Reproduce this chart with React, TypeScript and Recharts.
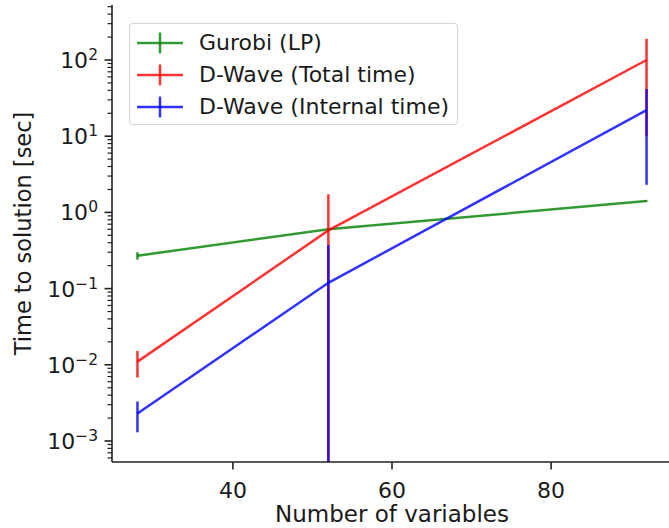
import React from 'react';
import { ComposedChart, Line, ErrorBar, XAxis, YAxis, Legend } from 'recharts';

// number of variables on x
const nVars = [28, 52, 92];

// time to solution [sec] and its error (one std)
const gurobiTime = [0.27, 0.6, 1.41];
const gurobiErr = [0.03, 0.02, 0.03];
const totalTime = [0.011, 0.58, 100];
const totalErr = [0.0042, 1.15, 90];
const internalTime = [0.0023, 0.119, 22];
const internalErr = [0.001, 0.254, 19.7];

const xTicks = [40, 60, 80];
const yMajorTicks = [1e-3, 1e-2, 1e-1, 1e0, 1e1, 1e2];

const X_DOMAIN: [number, number] = [24.8, 95.2];
const Y_MIN = 5.3e-4;
const Y_MAX = 527;

const FONT = 'DejaVu Sans';
const TEXT = '#1a1a1a';
const AXIS = '#222';

const series = [
  { key: 'gurobi', name: 'Gurobi (LP)', color: '#008000' },
  { key: 'total', name: 'D-Wave (Total time)', color: '#ff0000' },
  { key: 'internal', name: 'D-Wave (Internal time)', color: '#0000ff' },
];

// lower error clipped at the bottom of the log axis (matplotlib clips negatives)
const clampErr = (v: number, e: number) => [Math.min(e, v - Y_MIN), e];

const rows = nVars.map((n, i) => ({
  n,
  gurobi: gurobiTime[i],
  gurobiErr: clampErr(gurobiTime[i], gurobiErr[i]),
  total: totalTime[i],
  totalErr: clampErr(totalTime[i], totalErr[i]),
  internal: internalTime[i],
  internalErr: clampErr(internalTime[i], internalErr[i]),
}));

const yMinorTicks: number[] = [];
for (let d = -4; d <= 2; d++) {
  for (let m = 2; m <= 9; m++) {
    const v = m * Math.pow(10, d);
    if (v >= Y_MIN && v <= Y_MAX) yMinorTicks.push(v);
  }
}
const yTicks = [...yMajorTicks, ...yMinorTicks].sort((a, b) => a - b);

const YTick = (props: any) => {
  const { x, y, payload } = props;
  const lg = Math.log10(payload.value);
  const major = Math.abs(lg - Math.round(lg)) < 1e-6;
  if (!major) {
    return <line x1={x - 4.5} x2={x} y1={y} y2={y} stroke={AXIS} strokeWidth={1.2} />;
  }
  const exp = String(Math.round(lg)).replace('-', '\u2212');
  return (
    <g>
      <line x1={x - 7.5} x2={x} y1={y} y2={y} stroke={AXIS} strokeWidth={1.6} />
      <text x={x - 14} y={y + 8} textAnchor="end" fill={TEXT} fontFamily={FONT} fontSize={22}>
        <tspan>10</tspan>
        <tspan dy={-8} fontSize={15.5}>{exp}</tspan>
      </text>
    </g>
  );
};

const XTick = (props: any) => {
  const { x, y, payload } = props;
  return (
    <g>
      <line x1={x} x2={x} y1={y} y2={y + 7.5} stroke={AXIS} strokeWidth={1.6} />
      <text x={x} y={y + 36} textAnchor="middle" fill={TEXT} fontFamily={FONT} fontSize={22}>
        {payload.value}
      </text>
    </g>
  );
};

const LegendBox = () => (
  <div
    style={{
      position: 'relative',
      width: 329,
      height: 102,
      border: '1px solid rgba(204,204,204,0.8)',
      borderRadius: 4,
      background: 'rgba(255,255,255,0.8)',
      boxSizing: 'border-box',
      fontFamily: FONT,
      fontSize: 22,
      color: TEXT,
    }}
  >
    {series.map((s, i) => (
      <div key={s.key} style={{ position: 'absolute', left: 0, top: 19 + i * 32 - 16, height: 32, width: 329 }}>
        <svg width={60} height={32} style={{ position: 'absolute', left: 0, top: 0 }}>
          <g stroke={s.color} strokeOpacity={0.8} strokeWidth={2.5}>
            <line x1={7} x2={53} y1={16} y2={16} />
            <line x1={30} x2={30} y1={5.5} y2={26.5} />
          </g>
        </svg>
        <span style={{ position: 'absolute', left: 69, top: 2, lineHeight: '28px', whiteSpace: 'nowrap' }}>
          {s.name}
        </span>
      </div>
    ))}
  </div>
);

export default function App() {
  return (
    <div
      style={{
        position: 'absolute',
        left: 0,
        top: 0,
        width: 669,
        height: 528,
        overflow: 'hidden',
        background: '#fff',
      }}
    >
      <ComposedChart width={680} height={528} data={rows} margin={{ top: 5, right: 8, bottom: 0, left: 0 }}>
        <XAxis
          dataKey="n"
          type="number"
          domain={X_DOMAIN}
          allowDataOverflow
          ticks={xTicks}
          interval={0}
          tickSize={0}
          tickMargin={0}
          tickLine={false}
          tick={<XTick />}
          height={66}
          axisLine={{ stroke: AXIS, strokeWidth: 1.6 }}
          label={(p: any) => (
            <text
              x={p.viewBox.x + p.viewBox.width / 2}
              y={p.viewBox.y + 60}
              textAnchor="middle"
              fill={TEXT}
              fontFamily={FONT}
              fontSize={23}
            >
              Number of variables
            </text>
          )}
        />
        <XAxis
          xAxisId="top"
          orientation="top"
          dataKey="n"
          type="number"
          domain={X_DOMAIN}
          allowDataOverflow
          height={0}
          tick={false}
          tickLine={false}
          axisLine={{ stroke: AXIS, strokeWidth: 1.6 }}
        />
        <YAxis
          scale="log"
          type="number"
          domain={[Y_MIN, Y_MAX]}
          allowDataOverflow
          ticks={yTicks}
          interval={0}
          tickSize={0}
          tickMargin={0}
          tickLine={false}
          tick={<YTick />}
          width={112}
          axisLine={{ stroke: AXIS, strokeWidth: 1.6 }}
          label={(p: any) => {
            const cx = 23;
            const cy = p.viewBox.y + p.viewBox.height / 2;
            return (
              <text
                x={cx}
                y={cy}
                transform={`rotate(-90, ${cx}, ${cy})`}
                textAnchor="middle"
                dominantBaseline="central"
                fill={TEXT}
                fontFamily={FONT}
                fontSize={22.5}
              >
                Time to solution [sec]
              </text>
            );
          }}
        />
        <YAxis
          yAxisId="right"
          orientation="right"
          scale="log"
          type="number"
          domain={[Y_MIN, Y_MAX]}
          allowDataOverflow
          width={0}
          tick={false}
          tickLine={false}
          axisLine={{ stroke: AXIS, strokeWidth: 1.6 }}
        />
        {series.map((s) => (
          <Line
            key={s.key}
            dataKey={s.key}
            name={s.name}
            stroke={s.color}
            strokeOpacity={0.8}
            strokeWidth={2.5}
            dot={false}
            activeDot={false}
            isAnimationActive={false}
          >
            <ErrorBar
              dataKey={`${s.key}Err`}
              direction="y"
              width={0}
              stroke={s.color}
              strokeOpacity={0.8}
              strokeWidth={2.5}
              isAnimationActive={false}
            />
          </Line>
        ))}
        <Legend
          layout="vertical"
          align="center"
          verticalAlign="middle"
          content={<LegendBox />}
          wrapperStyle={{ position: 'absolute', left: 129, top: 23, width: 329, height: 102 }}
        />
      </ComposedChart>
    </div>
  );
}
